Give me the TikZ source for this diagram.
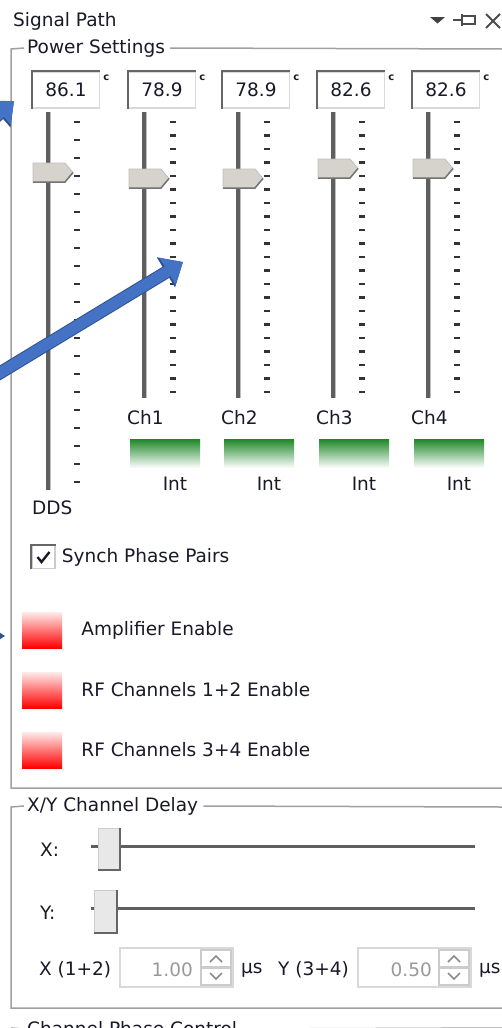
\documentclass[tikz,border=0pt]{standalone}
\usepackage{fontspec}
\setmainfont{DejaVu Sans}
\usetikzlibrary{arrows.meta,positioning}

\definecolor{txt}{RGB}{25,25,40}
\definecolor{frame}{RGB}{160,160,160}
\definecolor{trackgray}{RGB}{95,95,95}
\definecolor{thumbfill}{RGB}{214,211,204}
\definecolor{ledgreen}{RGB}{30,135,40}
\definecolor{ledred}{RGB}{255,0,0}
\definecolor{calloutblue}{RGB}{68,114,196}
\definecolor{calloutedge}{RGB}{47,82,143}

\tikzset{
  lbl/.style={font=\fontsize{18.5}{22}\selectfont, text=txt, inner sep=0pt},
  groupline/.style={draw=frame, line width=1.5},
  valbox/.style={lbl, rectangle, draw=black!15, fill=white, line width=1.5,
    minimum width=67, minimum height=36},
  sunk/.style={draw=black!60, line width=2},
  track/.style={draw=trackgray, line width=3.5},
  tick/.style={draw=black!80, line width=2.5},
  thumb/.style={fill=thumbfill, draw=black!25, line width=0.8},
  ledg/.style={rectangle, inner sep=0pt, minimum width=70, minimum height=29,
    top color=ledgreen, middle color=ledgreen!55, bottom color=white},
  ledr/.style={rectangle, inner sep=0pt, minimum width=40, minimum height=36,
    top color=ledred!8, bottom color=ledred},
  hthumb/.style={rectangle, inner sep=0pt, fill=black!9, draw=black!20, line width=1},
  spinbox/.style={rectangle, draw=black!15, line width=1.2, fill=white,
    minimum width=113, minimum height=39},
  callout/.style={draw=calloutblue, line width=11, -{Triangle[length=18pt,width=30pt]},
    preaction={draw=calloutedge, line width=13, -{Triangle[length=20pt,width=34pt]}}},
}

\begin{document}
\begin{tikzpicture}[x=1pt,y=-1pt]
  \clip (0,0) rectangle (502,1028);
  \fill[white] (0,0) rectangle (502,1028);

  % 1. 标题栏和右上角小图标
  \node[lbl, anchor=west] (title) at (13,21) {Signal Path};
  \fill[black!75] (430,17) -- (445,17) -- (437.5,23.5) -- cycle;
  \draw[black!70, line width=1.8] (453,20) -- (462,20) (462,14) -- (462,26);
  \draw[black!70, line width=1.8] (462,16) rectangle (475,24);
  \draw[black!70, line width=1.8] (486,14) -- (500,28) (486,28) -- (500,14);

  % 2. Power Settings 分组框
  \node[lbl, anchor=west] (gpower) at (27,48) {Power Settings};
  \draw[groupline] ([xshift=-3pt]gpower.west) -- (11,49) -- (11,788) -- (502,788);
  \draw[groupline] ([xshift=5pt]gpower.east) -- (502,49);

  % DDS 滑块
  \node[valbox] (vdds) at (66,90) {86.1};
  \draw[sunk] (vdds.south west) |- (vdds.north east);
  \node[lbl, font=\fontsize{10}{10}\selectfont\bfseries, anchor=west] (udds)
    at ([xshift=3pt,yshift=-7pt]vdds.north east) {c};
  \draw[track] (48,112) -- (48,490);
  \draw[black!25, line width=1] (50.5,112) -- (50.5,490);
  \foreach \k in {0,...,20}
    \draw[tick] (74,122+18*\k) -- (80,122+18*\k);
  \filldraw[thumb] (33,163) -- (65,163) -- (73,172.5) -- (65,182) -- (33,182) -- cycle;
  \draw[black!55, line width=1.5] (33,182) -- (65,182) -- (73,172.5);
  \node[lbl, anchor=west] (dds) at (32,508) {DDS};

  % 四个通道滑块
  \foreach \i/\x/\v/\t in {1/144/78.9/169, 2/238/78.9/169, 3/333/82.6/159, 4/428/82.6/159}{
    \node[valbox] (v\i) at (\x+18,90) {\v};
    \draw[sunk] (v\i.south west) |- (v\i.north east);
    \node[lbl, font=\fontsize{10}{10}\selectfont\bfseries, anchor=west] (u\i)
      at ([xshift=3pt,yshift=-7pt]v\i.north east) {c};
    \draw[track] (\x,112) -- (\x,398);
    \draw[black!25, line width=1] (\x+2.5,112) -- (\x+2.5,398);
    \foreach \k in {0,...,20}
      \draw[tick] (\x+26,122+13.5*\k) -- (\x+32,122+13.5*\k);
    \filldraw[thumb] (\x-15,\t) -- (\x+17,\t) -- (\x+25,\t+9.5) -- (\x+17,\t+19) -- (\x-15,\t+19) -- cycle;
    \draw[black!55, line width=1.5] (\x-15,\t+19) -- (\x+17,\t+19) -- (\x+25,\t+9.5);
    \node[lbl, anchor=west] (ch\i) at (\x-17,418) {Ch\i};
    \node[ledg] (led\i) at (\x+21,453.5) {};
    \node[lbl] (int\i) at (\x+31,484) {Int};
  }

  % 3. 复选框和指示灯
  \node[rectangle, draw=black!20, fill=white, line width=1.5, minimum size=23] (sync) at (43.5,557) {};
  \draw[sunk] (sync.south west) |- (sync.north east);
  \draw[txt, line width=2.4] ([shift={(-6,0)}]sync.center) -- ([shift={(-2,5)}]sync.center)
    -- ([shift={(6,-5)}]sync.center);
  \node[lbl, right=6pt of sync] (syncl) {Synch Phase Pairs};

  \foreach \k/\y/\s in {amp/630/Amplifier Enable, rfa/690/RF Channels 1+2 Enable, rfb/750/RF Channels 3+4 Enable}{
    \node[ledr] (\k) at (42,\y) {};
    \node[lbl, right=19pt of \k] (l\k) {\s};
  }

  % 4. X/Y Channel Delay 分组框
  \node[lbl, anchor=west] (gdelay) at (27,806) {X/Y Channel Delay};
  \draw[groupline] ([xshift=-3pt]gdelay.west) -- (11,807) -- (11,1008) -- (502,1008);
  \draw[groupline] ([xshift=5pt]gdelay.east) -- (502,807);

  \node[lbl, anchor=west] (xl) at (40,850) {X:};
  \draw[track, line width=3] (91,846) -- (475,846);
  \node[hthumb, minimum width=21, minimum height=41] (xt) at (108.5,848.5) {};
  \draw[black!60, line width=2] (xt.south west) -| (xt.north east);

  \node[lbl, anchor=west] (yl) at (40,913) {Y:};
  \draw[track, line width=3] (91,908) -- (475,908);
  \node[hthumb, minimum width=22, minimum height=42] (yt) at (105,911) {};
  \draw[black!60, line width=2] (yt.south west) -| (yt.north east);

  % 延时输入框
  \node[lbl, anchor=west] (xd) at (39,970) {X (1+2)};
  \node[spinbox] (sx) at (176.5,967.5) {};
  \node[lbl, text=black!40, anchor=east] (sxv) at (193,970) {1.00};
  \draw[black!20, line width=1.2] (201,950) rectangle (231,967) (201,968) rectangle (231,985);
  \draw[black!45, line width=1.6] (210,962) -- (216,956) -- (222,962) (210,973) -- (216,979) -- (222,973);
  \node[lbl, anchor=west] (xu) at (241,970) {μs};

  \node[lbl, anchor=west] (yd) at (278,970) {Y (3+4)};
  \node[spinbox] (sy) at (414.5,967.5) {};
  \node[lbl, text=black!40, anchor=east] (syv) at (432,970) {0.50};
  \draw[black!20, line width=1.2] (439,950) rectangle (469,967) (439,968) rectangle (469,985);
  \draw[black!45, line width=1.6] (448,962) -- (454,956) -- (460,962) (448,973) -- (454,979) -- (460,973);
  \node[lbl, anchor=west] (yu) at (479,970) {μs};

  % 5. 下一个分组框（只露出标题）
  \node[lbl, anchor=west] (gphase) at (27,1029) {Channel Phase Control};
  \draw[groupline] ([xshift=-3pt]gphase.west) -- (11,1028);
  \draw[groupline] ([xshift=5pt]gphase.east) -- (502,1028);

  % 6. 蓝色标注箭头
  \coordinate (a1s) at (-40,148);
  \coordinate (a1e) at (14,101);
  \draw[callout] (a1s) -- (a1e);
  \coordinate (a2s) at (-30,391);
  \coordinate (a2e) at (183,262);
  \draw[callout] (a2s) -- (a2e);
  \coordinate (a3s) at (-20,636);
  \coordinate (a3e) at (5,636);
  \draw[calloutedge, line width=1.5, -{Triangle[length=5pt,width=6pt]}] (a3s) -- (a3e);
\end{tikzpicture}
\end{document}
